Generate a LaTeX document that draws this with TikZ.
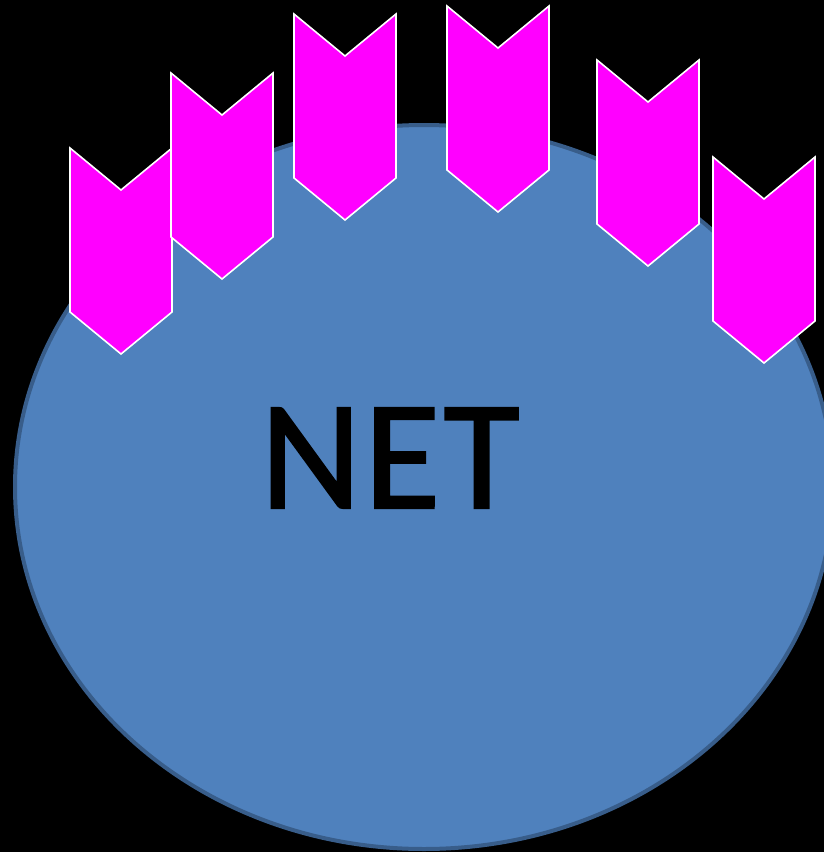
\documentclass[tikz,border=0pt]{standalone}
\usepackage{fontspec}
\setmainfont{Carlito}
\newfontfamily\netfont{Carlito}[FakeBold=1.3,LetterSpace=2]
\usepackage{xcolor}
\definecolor{netblue}{RGB}{79,129,189}
\definecolor{netedge}{RGB}{56,93,138}
\definecolor{chevpink}{RGB}{255,0,255}

\begin{document}
\begin{tikzpicture}[x=1pt,y=-1pt,line join=miter,
  chev/.style={fill=chevpink,draw=white,line width=1.6pt}]
  \fill[black] (0,0) rectangle (824,852);
  \useasboundingbox (0,0) rectangle (824,852);
  \coordinate (O) at (424,487);
  \filldraw[fill=netblue,draw=netedge,line width=4pt] (O) ellipse [x radius=409,y radius=362];
  \node[anchor=base,inner sep=0pt,font=\netfont\fontsize{156}{160}\selectfont] (net) at (390,508) {NET};
  % chevrons, top-left corners
  \foreach \x/\y in {70/148,171/73,294/14,447/6,597/60,713/157}
    \draw[chev] (\x,\y) -- ++(51,42) -- ++(51,-42) -- ++(0,164) -- ++(-51,42) -- ++(-51,-42) -- cycle;
\end{tikzpicture}
\end{document}
